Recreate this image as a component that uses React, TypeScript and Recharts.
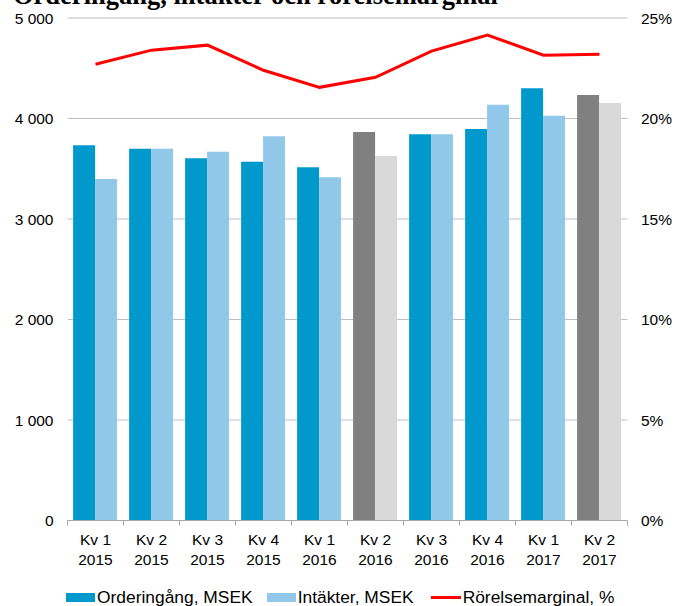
import React from 'react';
import { ComposedChart, Bar, Line, XAxis, YAxis, CartesianGrid, Cell } from 'recharts';

const quarterNames = ['Kv 1', 'Kv 2', 'Kv 3', 'Kv 4', 'Kv 1', 'Kv 2', 'Kv 3', 'Kv 4', 'Kv 1', 'Kv 2'];
const quarterYears = ['2015', '2015', '2015', '2015', '2016', '2016', '2016', '2016', '2017', '2017'];
const orderIntake = [3733, 3700, 3604, 3570, 3514, 3866, 3843, 3896, 4300, 4234];
const revenue = [3398, 3700, 3670, 3823, 3415, 3627, 3843, 4137, 4028, 4154];
const operatingMargin = [22.7, 23.4, 23.65, 22.4, 21.55, 22.05, 23.35, 24.15, 23.15, 23.2];
// half-year reports are drawn in grey
const greyQuarters = ['Kv 2 2016', 'Kv 2 2017'];

const leftTicks = [0, 1000, 2000, 3000, 4000, 5000];
const rightTicks = [0, 5, 10, 15, 20, 25];

const data = quarterNames.map((q, i) => ({
  key: `${q} ${quarterYears[i]}`,
  quarter: q,
  year: quarterYears[i],
  orders: orderIntake[i],
  revenue: revenue[i],
  margin: operatingMargin[i],
}));

const W = 675;
const H = 606;
const LEFT = 67.5;
const RIGHT = 47.5;
const band = (W - LEFT - RIGHT) / data.length;
const FONT = '"Liberation Sans", Arial, sans-serif';

const XTick = (props: any) => {
  const { x, y, payload, index } = props;
  const d = data[index] || data.find((r) => r.key === payload.value);
  return (
    <g>
      <line x1={x - band / 2} x2={x - band / 2} y1={y} y2={y + 5} stroke="#A6A6A6" />
      {index === data.length - 1 && (
        <line x1={x + band / 2} x2={x + band / 2} y1={y} y2={y + 5} stroke="#A6A6A6" />
      )}
      <text x={x} y={y + 24.5} textAnchor="middle" fontSize={15.5} fontFamily={FONT} fill="#000">
        {d ? d.quarter : ''}
      </text>
      <text x={x} y={y + 44.5} textAnchor="middle" fontSize={15.5} fontFamily={FONT} fill="#000">
        {d ? d.year : ''}
      </text>
    </g>
  );
};

const fmtThousands = (v: number) => (v >= 1000 ? `${Math.floor(v / 1000)} ${String(v % 1000).padStart(3, '0')}` : `${v}`);

const App = () => {
  const isGrey = (k: string) => greyQuarters.includes(k);
  return (
    <div style={{ position: 'absolute', left: 0, top: 0, width: W, height: H, background: '#fff', overflow: 'hidden' }}>
      <svg width={W} height={30} style={{ position: 'absolute', left: 0, top: 0, overflow: 'visible' }}>
        <text x={13} y={4} fontSize={26.5} fontWeight="bold" fontFamily='"Liberation Serif", "Times New Roman", serif' fill="#000">
          Orderingång, intäkter och rörelsemarginal
        </text>
      </svg>
      <div style={{ position: 'absolute', left: 0, top: 0 }}>
        <ComposedChart
          width={W}
          height={H}
          data={data}
          margin={{ top: 18, right: 0, left: 0, bottom: 0 }}
          barCategoryGap="10%"
          barGap={0}
        >
          <CartesianGrid yAxisId="left" vertical={false} stroke="#BFBFBF" />
          <XAxis
            dataKey="key"
            height={85.5}
            interval={0}
            tickLine={false}
            tickSize={0}
            tickMargin={0}
            axisLine={{ stroke: '#A6A6A6' }}
            tick={<XTick />}
          />
          <YAxis
            yAxisId="left"
            width={LEFT}
            domain={[0, 5000]}
            ticks={leftTicks}
            tickFormatter={fmtThousands}
            axisLine={false}
            tickLine={false}
            tickSize={0}
            tickMargin={14}
            tick={{ fill: '#000', fontSize: 15.5, fontFamily: FONT }}
          />
          <YAxis
            yAxisId="right"
            orientation="right"
            width={RIGHT}
            domain={[0, 25]}
            ticks={rightTicks}
            tickFormatter={(v: number) => `${v}%`}
            axisLine={false}
            tickLine={false}
            tickSize={0}
            tickMargin={13.5}
            tick={{ fill: '#000', fontSize: 15.5, fontFamily: FONT }}
          />
          <Bar yAxisId="left" dataKey="orders" isAnimationActive={false}>
            {data.map((d) => (
              <Cell key={d.key} fill={isGrey(d.key) ? '#808080' : '#0099CC'} />
            ))}
          </Bar>
          <Bar yAxisId="left" dataKey="revenue" isAnimationActive={false}>
            {data.map((d) => (
              <Cell key={d.key} fill={isGrey(d.key) ? '#D9D9D9' : '#91C7E8'} />
            ))}
          </Bar>
          <Line
            yAxisId="right"
            dataKey="margin"
            type="linear"
            stroke="#FF0000"
            strokeWidth={3}
            dot={false}
            activeDot={false}
            isAnimationActive={false}
          />
        </ComposedChart>
      </div>
      <div
        style={{
          position: 'absolute',
          left: 66,
          top: 588,
          display: 'flex',
          alignItems: 'center',
          fontFamily: FONT,
          fontSize: 17.4,
          lineHeight: '19px',
          color: '#000',
          whiteSpace: 'nowrap',
        }}
      >
        <span style={{ display: 'inline-block', width: 29, height: 9, background: '#0099CC', marginRight: 2 }} />
        <span style={{ marginRight: 14 }}>Orderingång, MSEK</span>
        <span style={{ display: 'inline-block', width: 29, height: 9, background: '#91C7E8', marginRight: 2 }} />
        <span style={{ marginRight: 17 }}>Intäkter, MSEK</span>
        <span style={{ display: 'inline-block', width: 30, height: 3, background: '#FF0000', marginRight: 2 }} />
        <span>Rörelsemarginal, %</span>
      </div>
    </div>
  );
};

export default App;
